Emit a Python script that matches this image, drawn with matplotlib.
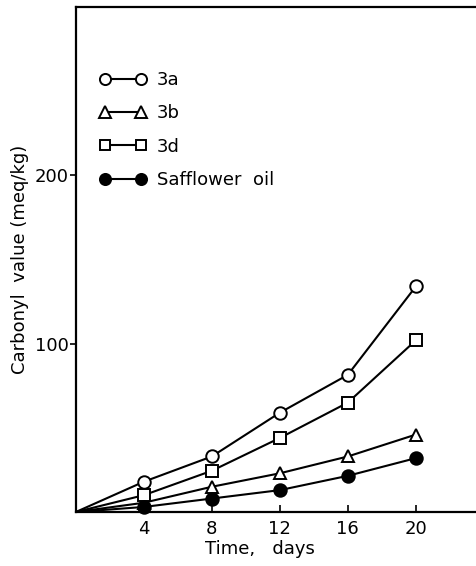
import matplotlib
matplotlib.use("Agg")
import matplotlib.pyplot as plt
from matplotlib.lines import Line2D

days = [0, 4, 8, 12, 16, 20]
s3a = [0, 18, 33, 59, 81.5, 134]
s3b = [0, 5.5, 15, 23, 33, 46]
s3d = [0, 10, 24.5, 44, 65, 102]
saff = [0, 3, 8, 13, 21.5, 32]
xticks = [4, 8, 12, 16, 20]
yticks = [100, 200]

plt.rcParams['font.family'] = ['DejaVu Sans']
fig = plt.figure(figsize=(4.77, 5.66), dpi=100)
ax = fig.add_axes([0.159, 0.0954, 0.841, 0.892])

kw = dict(color='black', lw=1.5, ms=9, mew=1.4, clip_on=False, zorder=3)
ax.plot(days[1:], s3a[1:], marker='o', mfc='white', mec='black', linestyle='none', **kw)
ax.plot(days[1:], s3b[1:], marker='^', mfc='white', mec='black', linestyle='none', **kw)
ax.plot(days[1:], s3d[1:], marker='s', mfc='white', mec='black', linestyle='none', **{**kw, 'ms': 8})
ax.plot(days[1:], saff[1:], marker='o', mfc='black', mec='black', linestyle='none', **kw)
for s in (s3a, s3b, s3d, saff):
    ax.plot(days, s, color='black', lw=1.5, zorder=2)

ax.set_xlim(0, 23.6)
ax.set_ylim(0, 300)
ax.set_xticks(xticks)
ax.set_yticks(yticks)
ax.set_xticklabels([str(t) for t in xticks], fontsize=13)
ax.set_yticklabels([str(t) for t in yticks], fontsize=13)
ax.tick_params(axis='x', direction='in', length=5, width=1.2, pad=6)
ax.tick_params(axis='y', direction='out', length=4, width=1.2, pad=1)
ax.spines['right'].set_visible(False)
for sp in ('left', 'bottom', 'top'):
    ax.spines[sp].set_linewidth(1.6)

ax.set_xlabel('Time,   days', fontsize=13)
ax.xaxis.set_label_coords(0.459, -0.056)
ax.set_ylabel('Carbonyl  value (meq/kg)', fontsize=13, labelpad=4)

handles = [
    Line2D([], [], color='black', lw=1.5, marker='o', mfc='white', mec='black', ms=8, mew=1.4),
    Line2D([], [], color='black', lw=1.5, marker='^', mfc='white', mec='black', ms=8, mew=1.4),
    Line2D([], [], color='black', lw=1.5, marker='s', mfc='white', mec='black', ms=7, mew=1.4),
    Line2D([], [], color='black', lw=1.5, marker='o', mfc='black', mec='black', ms=8, mew=1.4),
]
labels = ['3a', '3b', '3d', 'Safflower  oil']
ax.legend(handles, labels, loc='upper left', bbox_to_anchor=(0.04, 0.888),
          frameon=False, fontsize=13, numpoints=2, handlelength=2.6,
          handletextpad=0.6, labelspacing=0.85, borderaxespad=0)

fig.savefig('out.png', dpi=100)
